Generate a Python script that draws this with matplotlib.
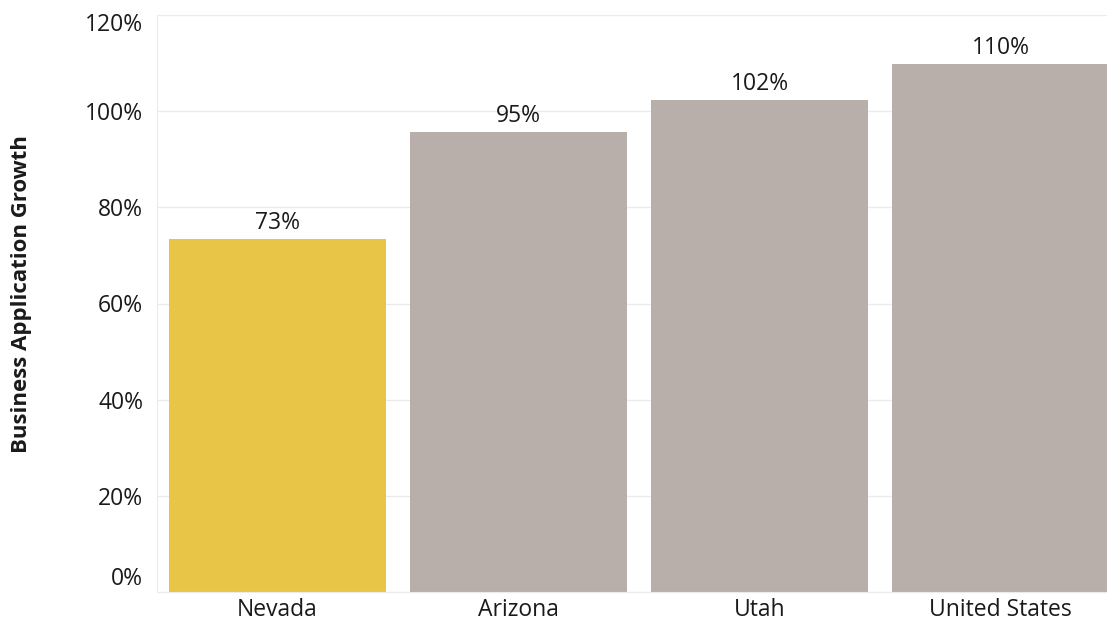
import matplotlib
matplotlib.use("Agg")
import matplotlib.pyplot as plt
from matplotlib.transforms import ScaledTranslation

categories = ["Nevada", "Arizona", "Utah", "United States"]
values = [73.4, 95.6, 102.3, 109.8]
labels = ["73%", "95%", "102%", "110%"]
colors = ["#E8C547", "#B8AFAB", "#B8AFAB", "#B8AFAB"]
yticks = [0, 20, 40, 60, 80, 100, 120]
ytick_labels = ["0%", "20%", "40%", "60%", "80%", "100%", "120%"]

plt.rcParams['font.family'] = ['Open Sans', 'DejaVu Sans']
text_color = "#1A1A1A"

fig = plt.figure(figsize=(11.07, 6.26), dpi=100)
ax = fig.add_axes([157/1107, 34/626, 950/1107, 577/626])

x = list(range(len(categories)))
ax.bar(x, values, width=0.9, color=colors, zorder=2)
for xi, v, lab in zip(x, values, labels):
    ax.annotate(lab, (xi, v), xytext=(0, 3), textcoords="offset points",
                ha="center", va="bottom", fontsize=16.5, color=text_color)

ax.set_xlim(-0.5, 3.5 - 14/241)
ax.set_ylim(0, 120)
ax.set_yticks(yticks)
ax.set_yticklabels(ytick_labels, fontsize=16.5, color=text_color)
ax.set_xticks(x)
ax.set_xticklabels(categories, fontsize=16.5, color=text_color)
ax.tick_params(axis="both", length=0)
ax.tick_params(axis="y", pad=10)
ax.tick_params(axis="x", pad=4)

ax.grid(axis="y", color="#EBEBEB", linewidth=1, zorder=0)
for side in ["top", "right"]:
    ax.spines[side].set_visible(False)
ax.spines["left"].set_color("#EBEBEB")
ax.spines["bottom"].set_color("#EBEBEB")

tl = ax.get_yticklabels()
tl[0].set_transform(tl[0].get_transform() + ScaledTranslation(0, 16/100, fig.dpi_scale_trans))
tl[-1].set_transform(tl[-1].get_transform() + ScaledTranslation(0, -7/100, fig.dpi_scale_trans))

fig.text(22/1107, 1 - 294/626, "Business Application Growth", rotation=90,
         ha="center", va="center", fontsize=16, fontweight="bold", color=text_color)

fig.savefig("out.png", dpi=100, facecolor="white")
